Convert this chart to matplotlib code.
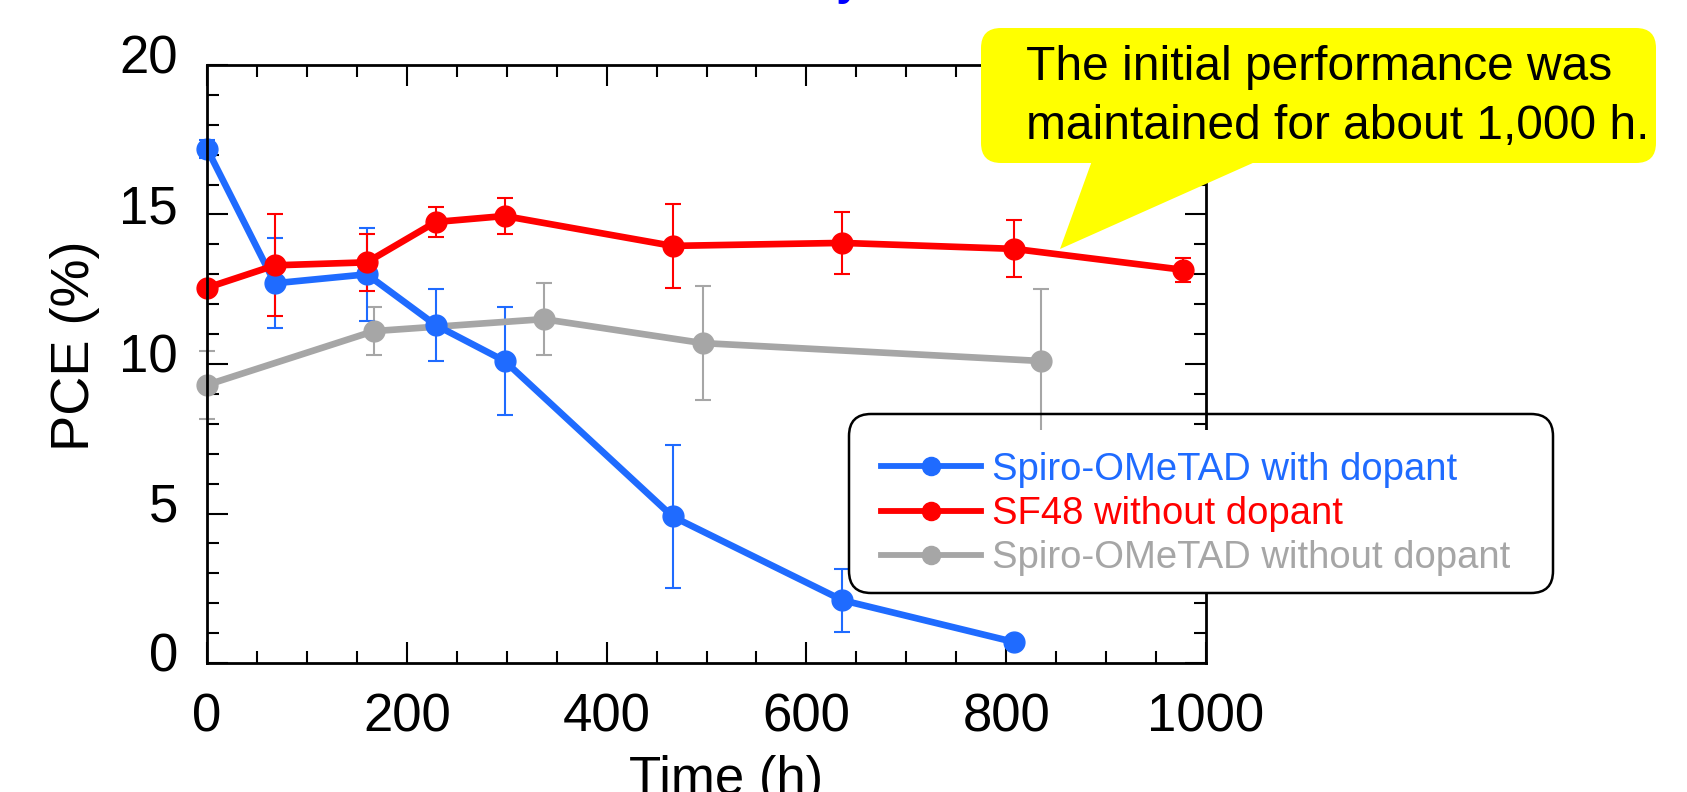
import matplotlib
matplotlib.use("Agg")
import matplotlib.pyplot as plt
from matplotlib.lines import Line2D
from matplotlib.patches import FancyBboxPatch, Polygon, Rectangle
from matplotlib.ticker import MultipleLocator
from matplotlib.transforms import ScaledTranslation

plt.rcParams['font.family'] = ['Liberation Sans', 'DejaVu Sans']

# data
blue_x = [0, 68, 160, 229, 298, 466, 636, 808]
blue_y = [17.2, 12.7, 13.0, 11.3, 10.1, 4.9, 2.1, 0.7]
blue_err = [0.3, 1.5, 1.55, 1.2, 1.8, 2.4, 1.05, 0.1]

red_x = [0, 68, 160, 229, 298, 466, 636, 808, 977]
red_y = [12.55, 13.3, 13.4, 14.75, 14.95, 13.95, 14.05, 13.85, 13.15]
red_err = [0.15, 1.7, 0.95, 0.5, 0.6, 1.4, 1.05, 0.95, 0.4]

gray_x = [0, 167, 337, 496, 835]
gray_y = [9.3, 11.1, 11.5, 10.7, 10.1]
gray_err = [1.15, 0.8, 1.2, 1.9, 2.4]

labels = ["Spiro-OMeTAD with dopant", "SF48 without dopant", "Spiro-OMeTAD without dopant"]
colors = ["#1f6bff", "#ff0000", "#a6a6a6"]

W, H = 1687, 792
fig = plt.figure(figsize=(W / 100, H / 100), dpi=100)
ax = fig.add_axes([207 / W, 1 - 663 / H, 999 / W, 598 / H])

series = [(gray_x, gray_y, gray_err, colors[2]),
          (blue_x, blue_y, blue_err, colors[0]),
          (red_x, red_y, red_err, colors[1])]
for x, y, e, c in series:
    cont = ax.errorbar(x, y, yerr=e, color=c, lw=4.8, marker='o', ms=15,
                       elinewidth=1.5, capsize=6, capthick=1.5)
    line, caps, bars = cont.lines
    line.set_clip_on(False)
    for a in list(caps) + list(bars):
        a.set_clip_on(False)

ax.set_xlim(0, 1000)
ax.set_ylim(0, 20)
ax.xaxis.set_major_locator(MultipleLocator(200))
ax.xaxis.set_minor_locator(MultipleLocator(50))
ax.yaxis.set_major_locator(MultipleLocator(5))
ax.yaxis.set_minor_locator(MultipleLocator(1))
ax.tick_params(which='both', direction='in', top=True, right=True, width=1.5,
               labelsize=38, pad=21)
ax.tick_params(which='major', length=15)
ax.tick_params(which='minor', length=8.5)
for s in ax.spines.values():
    s.set_linewidth(2)

# y tick labels sit a little above their ticks in the original
off = ScaledTranslation(0, 11 / 100, fig.dpi_scale_trans)
for lab in ax.get_yticklabels():
    lab.set_transform(lab.get_transform() + off)

ax.set_xlabel("Time (h)", fontsize=38)
ax.set_ylabel("PCE (%)", fontsize=39)
ax.xaxis.set_label_coords(0.52, -0.154)
ax.yaxis.set_label_coords(-0.107, 0.53)

# cut-off blue heading at the very top
fig.text(862 / W, 1 + 5 / H, "Stability", color="#0000ff", fontsize=32,
         fontweight='bold', ha='right', va='baseline')

# yellow callout
inch = fig.dpi_scale_trans
bubble = FancyBboxPatch((9.81, 6.29), 6.75, 1.35, boxstyle="round,pad=0,rounding_size=0.2",
                        transform=inch, facecolor="#ffff00", edgecolor='none', zorder=3)
tail = Polygon([(10.93, 6.34), (12.64, 6.34), (10.60, 5.43)], closed=True,
               transform=inch, facecolor="#ffff00", edgecolor='none', zorder=3)
fig.add_artist(bubble)
fig.add_artist(tail)
fig.text(1026 / W, 1 - 97 / H, "The initial performance was\nmaintained for about 1,000 h.",
         fontsize=34.5, ha='left', va='center', multialignment='left', linespacing=1.4,
         zorder=4)

# legend box
fig.add_artist(Rectangle((8.51, 2.0), 7.0, 1.62, transform=inch, facecolor='white',
                         edgecolor='none', zorder=3))
fig.add_artist(FancyBboxPatch((8.49, 1.99), 7.04, 1.79, boxstyle="round,pad=0,rounding_size=0.22",
                              transform=inch, facecolor='none', edgecolor='black', lw=1.8,
                              zorder=3))
handles = [Line2D([], [], color=c, lw=4.2, marker='o', ms=15) for c in colors]
leg = fig.legend(handles, labels, loc='center left', bbox_to_anchor=(881 / W, 1 - 514 / H),
                 frameon=False, fontsize=27.5, borderpad=0, borderaxespad=0,
                 handlelength=2.62, handletextpad=0.28, labelspacing=0.22,
                 markerscale=0.87)
leg.set_zorder(5)
for t, c in zip(leg.get_texts(), colors):
    t.set_color(c)

fig.savefig("out.png", dpi=100)
